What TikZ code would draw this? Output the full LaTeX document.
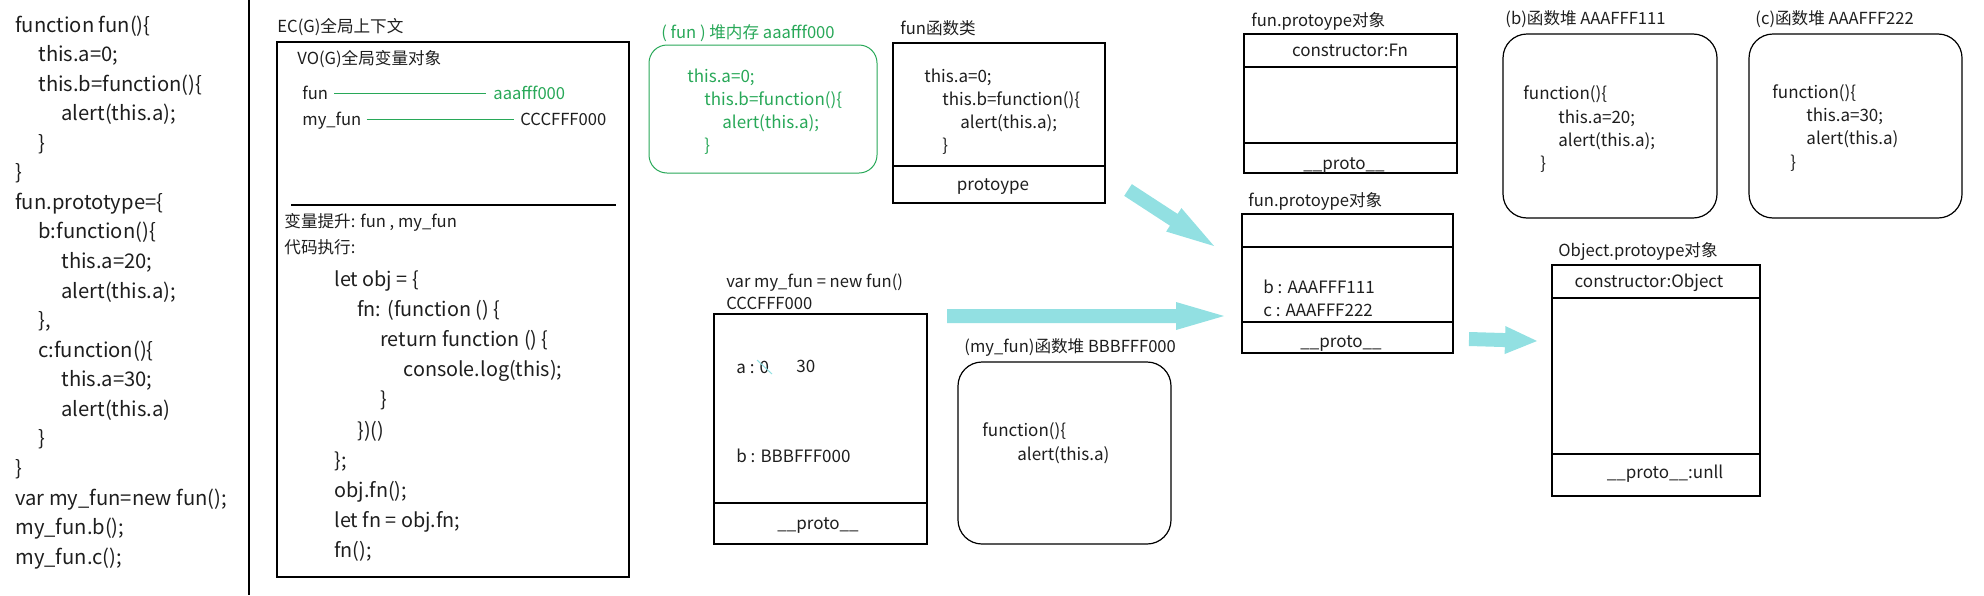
\documentclass[tikz,border=0pt]{standalone}
\usepackage{fontspec}
\setmainfont{Noto Sans CJK SC}
\usetikzlibrary{calc,fit}
\definecolor{txt}{RGB}{30,30,30}
\definecolor{grn}{RGB}{40,168,88}
\definecolor{cyanarr}{RGB}{146,224,226}
\newcommand\blockarrow[3]{%
  \coordinate (ba-h) at ($(#2)!#3!(#1)$);
  \fill[arrowfill] ($(#1)!3.5pt!90:(#2)$) -- ($(ba-h)!3.5pt!90:(#2)$) -- ($(ba-h)!7pt!90:(#2)$) -- (#2)
    -- ($(ba-h)!7pt!-90:(#2)$) -- ($(ba-h)!3.5pt!-90:(#2)$) -- ($(#1)!3.5pt!-90:(#2)$) -- cycle;}
\begin{document}
\begin{tikzpicture}[x=0.5pt,y=-0.5pt,
  t/.style={anchor=base west, inner sep=0pt, text=txt},
  code/.style={t, font=\fontsize{10.1}{12}\selectfont},
  ecode/.style={t, font=\fontsize{9.9}{12}\selectfont},
  lbl/.style={t, font=\fontsize{8.3}{10}\selectfont},
  cont/.style={t, font=\fontsize{8.5}{10}\selectfont},
  gcont/.style={cont, text=grn},
  box/.style={draw=black, line width=0.6pt, inner sep=0pt},
  rbox/.style={box, rounded corners=12pt},
  gbox/.style={draw=grn, line width=0.5pt, inner sep=0pt, rounded corners=9pt},
  gline/.style={draw=grn, line width=0.5pt},
  divline/.style={draw=black, line width=0.6pt},
  arrowfill/.style={fill=cyanarr},
]
\useasboundingbox (0,0) rectangle (1984,595);

% ---------- left source code ----------
\node[code] (c1)  at (15,32)    {function fun()\{};
\node[code] (c2)  at (38,61.6)  {this.a=0;};
\node[code] (c3)  at (38,91.1)  {this.b=function()\{};
\node[code] (c4)  at (61,120.7) {alert(this.a);};
\node[code] (c5)  at (38,150.2) {\}};
\node[code] (c6)  at (15,179.8) {\}};
\node[code] (c7)  at (15,209.4) {fun.prototype=\{};
\node[code] (c8)  at (38,238.9) {b:function()\{};
\node[code] (c9)  at (61,268.5) {this.a=20;};
\node[code] (c10) at (61,298.0) {alert(this.a);};
\node[code] (c11) at (38,327.6) {\},};
\node[code] (c12) at (38,357.2) {c:function()\{};
\node[code] (c13) at (61,386.7) {this.a=30;};
\node[code] (c14) at (61,416.3) {alert(this.a)};
\node[code] (c15) at (38,445.8) {\}};
\node[code] (c16) at (15,475.4) {\}};
\node[code] (c17) at (15,505.0) {var my\_fun=new fun();};
\node[code] (c18) at (15,534.5) {my\_fun.b();};
\node[code] (c19) at (15,564.1) {my\_fun.c();};
\coordinate (sepT) at (249,0);
\coordinate (sepB) at (249,595);
\draw[divline] (sepT) -- (sepB);

% ---------- EC(G) ----------
\node[lbl] (ecl) at (277,32) {EC(G)全局上下文};
\node[box, fit={(277,42) (629,577)}] (ec) {};
\node[lbl] (vol) at (297,64) {VO(G)全局变量对象};
\node[lbl] (vfun) at (302,99) {fun};
\node[lbl, text=grn] (vaaa) at (493,99) {aaafff000};
\node[lbl] (vmy) at (302,125) {my\_fun};
\node[lbl] (vccc) at (520,125) {CCCFFF000};
\draw[gline] ([xshift=3pt,yshift=3pt]vfun.base east) -- ([xshift=-3.5pt,yshift=3pt]vaaa.base west);
\draw[gline] ([xshift=2.5pt,yshift=3pt]vmy.base east) -- ([xshift=-3pt,yshift=3pt]vccc.base west);
\draw[divline] (291,205) -- (616,205);
\node[lbl] (hoist) at (284,227) {变量提升: fun , my\_fun};
\node[lbl] (exec) at (284,253) {代码执行:};
\node[ecode] (e1)  at (334,286.5) {let obj = \{};
\node[ecode] (e2)  at (357,316.6) {fn: (function () \{};
\node[ecode] (e3)  at (380,346.7) {return function () \{};
\node[ecode] (e4)  at (403,376.8) {console.log(this);};
\node[ecode] (e5)  at (380,406.9) {\}};
\node[ecode] (e6)  at (357,437.0) {\})()};
\node[ecode] (e7)  at (334,467.1) {\};};
\node[ecode] (e8)  at (334,497.2) {obj.fn();};
\node[ecode] (e9)  at (334,527.3) {let fn = obj.fn;};
\node[ecode] (e10) at (334,557.4) {fn();};

% ---------- (fun) heap ----------
\node[lbl, text=grn] (heapl) at (661,38) {( fun ) 堆内存 aaafff000};
\node[gbox, fit={(649,45) (877,173)}] (heap) {};
\node[gcont] (h1) at (687,82)  {this.a=0;};
\node[gcont] (h2) at (704,105) {this.b=function()\{};
\node[gcont] (h3) at (722,128) {alert(this.a);};
\node[gcont] (h4) at (704,151) {\}};

% ---------- fun class ----------
\node[lbl] (funcl) at (900,34) {fun函数类};
\node[box, fit={(893,43) (1105,203)}] (funcls) {};
\draw[divline] (funcls.west |- 0,166) -- (funcls.east |- 0,166);
\node[cont] (f1) at (924,82)  {this.a=0;};
\node[cont] (f2) at (942,105) {this.b=function()\{};
\node[cont] (f3) at (960,128) {alert(this.a);};
\node[cont] (f4) at (942,151) {\}};
\node[cont, anchor=base] (fproto) at (993,190) {protoype};

% ---------- my_fun instance ----------
\node[lbl] (myl1) at (726,287) {var my\_fun = new fun()};
\node[lbl] (myl2) at (726,309) {CCCFFF000};
\node[box, fit={(714,314) (927,544)}] (myobj) {};
\draw[divline] (myobj.west |- 0,503) -- (myobj.east |- 0,503);
\node[cont] (ma) at (736,373) {a : 0};
\node[cont] (m30) at (796,372) {30};
\coordinate (strA) at (757,360);
\coordinate (strB) at (772,374);
\draw[draw=cyanarr, line width=0.5pt] (strA) -- (strB);
\node[cont] (mb) at (736,462) {b : BBBFFF000};
\node[cont, anchor=base] (mproto) at (818,529) {\_\_proto\_\_};

% ---------- (my_fun) function heap ----------
\node[lbl] (mhl) at (964,352) {(my\_fun)函数堆 BBBFFF000};
\node[rbox, fit={(958,362) (1171,544)}] (mheap) {};
\node[cont] (mh1) at (982,436) {function()\{};
\node[cont] (mh2) at (1017,460) {alert(this.a)};

% ---------- fun.protoype (top) ----------
\node[lbl] (fp1l) at (1251,26) {fun.protoype对象};
\node[box, fit={(1244,34) (1457,173)}] (fp1) {};
\draw[divline] (fp1.west |- 0,67) -- (fp1.east |- 0,67);
\draw[divline] (fp1.west |- 0,143) -- (fp1.east |- 0,143);
\node[cont, anchor=base] (fp1c) at (1350,56) {constructor:Fn};
\node[cont, anchor=base] (fp1p) at (1344,169) {\_\_proto\_\_};

% ---------- (b) heap ----------
\node[lbl] (bl) at (1505,24) {(b)函数堆 AAAFFF111};
\node[rbox, fit={(1503,34) (1717,218)}] (bheap) {};
\node[cont] (b1) at (1523,99)  {function()\{};
\node[cont] (b2) at (1558,123) {this.a=20;};
\node[cont] (b3) at (1558,146) {alert(this.a);};
\node[cont] (b4) at (1540,169) {\}};

% ---------- (c) heap ----------
\node[lbl] (cl) at (1755,24) {(c)函数堆 AAAFFF222};
\node[rbox, fit={(1749,34) (1962,218)}] (cheap) {};
\node[cont] (d1) at (1772,98)  {function()\{};
\node[cont] (d2) at (1806,121) {this.a=30;};
\node[cont] (d3) at (1806,144) {alert(this.a)};
\node[cont] (d4) at (1790,168) {\}};

% ---------- fun.protoype (second) ----------
\node[lbl] (fp2l) at (1248,206) {fun.protoype对象};
\node[box, fit={(1242,214) (1453,353)}] (fp2) {};
\draw[divline] (fp2.west |- 0,247) -- (fp2.east |- 0,247);
\draw[divline] (fp2.west |- 0,322) -- (fp2.east |- 0,322);
\node[cont] (fpb) at (1263,293) {b : AAAFFF111};
\node[cont] (fpc) at (1263,316) {c : AAAFFF222};
\node[cont, anchor=base] (fp2p) at (1341,347) {\_\_proto\_\_};

% ---------- Object.prototype ----------
\node[lbl] (objl) at (1558,256) {Object.protoype对象};
\node[box, fit={(1552,265) (1760,496)}] (objp) {};
\draw[divline] (objp.west |- 0,298) -- (objp.east |- 0,298);
\draw[divline] (objp.west |- 0,454) -- (objp.east |- 0,454);
\node[cont, anchor=base] (objc) at (1649,287) {constructor:Object};
\node[cont, anchor=base] (objpr) at (1665,478) {\_\_proto\_\_:unll};

% ---------- block arrows ----------
\coordinate (a1t) at (1128,190);
\coordinate (a1h) at (1214,246);
\blockarrow{a1t}{a1h}{24pt}
\coordinate (a2t) at (947,316);
\coordinate (a2h) at (1224,316);
\blockarrow{a2t}{a2h}{24pt}
\coordinate (a3t) at (1469,339);
\coordinate (a3h) at (1537,341);
\blockarrow{a3t}{a3h}{16pt}
\end{tikzpicture}
\end{document}
